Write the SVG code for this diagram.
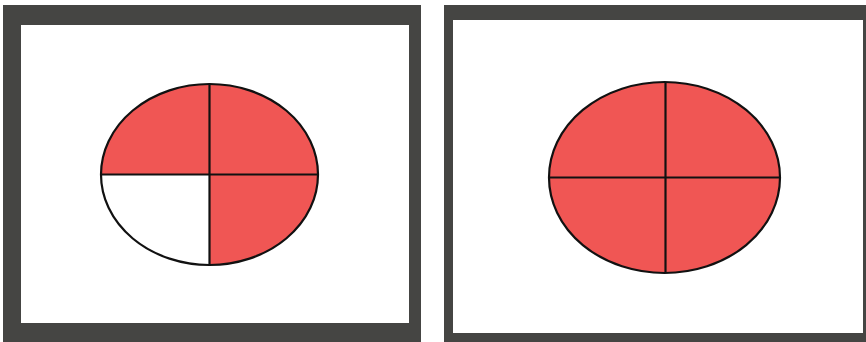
<svg xmlns="http://www.w3.org/2000/svg" width="866" height="342" viewBox="0 0 866 342">
<style>
.frame{fill:#454543}
.page{fill:#ffffff}
.red{fill:#f05654}
.out{fill:none;stroke:#111;stroke-width:2.2}
.ln{stroke:#111;stroke-width:2.2}
</style>
<rect width="866" height="342" fill="#ffffff"/>
<g id="left-panel">
<rect class="frame" x="3" y="5" width="418" height="337"/>
<rect class="page" x="21" y="25" width="388" height="298"/>
<path class="red" d="M101 174.5 A108.5 90.5 0 0 1 318 174.5 A108.5 90.5 0 0 1 209.5 265 L209.5 174.5 Z"/>
<ellipse class="out" cx="209.5" cy="174.5" rx="108.5" ry="90.5"/>
<line class="ln" x1="101" y1="174.5" x2="318" y2="174.5"/>
<line class="ln" x1="209.5" y1="84" x2="209.5" y2="265"/>
</g>
<g id="right-panel">
<rect class="frame" x="444" y="5" width="422" height="337"/>
<rect class="page" x="453" y="20" width="410" height="313"/>
<ellipse class="red" cx="664.5" cy="177.5" rx="115.5" ry="95.5"/>
<ellipse class="out" cx="664.5" cy="177.5" rx="115.5" ry="95.5"/>
<line class="ln" x1="549" y1="177.5" x2="780" y2="177.5"/>
<line class="ln" x1="665.5" y1="82" x2="665.5" y2="273" stroke-width="2.6"/>
</g>
</svg>
